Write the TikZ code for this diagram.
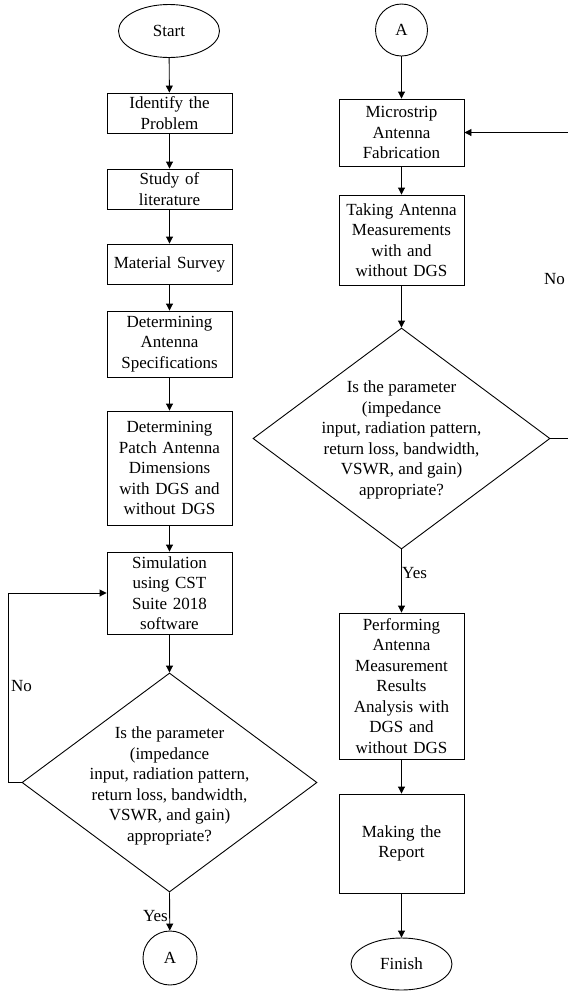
\documentclass[tikz,border=0pt]{standalone}
\usepackage{fontspec}
\setmainfont{Liberation Serif}
\usetikzlibrary{shapes.geometric,arrows.meta,calc}
\begin{document}
\begin{tikzpicture}[x=1pt,y=-1pt,
  every node/.style={font=\fontsize{17}{20.5}\selectfont},
  procbox/.style={draw,line width=0.9pt,rectangle,minimum width=125pt,text width=121pt,align=center,inner sep=1pt},
  term/.style={draw,line width=0.9pt,ellipse,minimum width=101pt,minimum height=53pt,inner sep=0pt},
  conn/.style={draw,line width=0.9pt,circle,minimum size=54pt,inner sep=0pt},
  decide/.style={draw,line width=0.9pt,diamond,inner sep=0pt},
  dtext/.style={align=center,inner sep=0pt},
  arr/.style={line width=0.9pt,-{Triangle[length=7pt,width=7pt]}},
  lbl/.style={inner sep=1pt}]
\useasboundingbox (0,0) rectangle (568,994);
% left column
\node[term] (start) at (169,31) {Start};
\node[procbox,minimum height=40pt] (b1) at (169.5,113) {Identify the\\Problem};
\node[procbox,minimum height=40pt] (b2) at (169.5,189) {Study of\\literature};
\node[procbox,minimum height=40pt] (b3) at (169.5,264) {Material Survey};
\node[procbox,minimum height=66pt] (b4) at (169.5,344) {Determining\\Antenna\\Specifications};
\node[procbox,minimum height=114pt] (b5) at (169.5,468) {Determining\\Patch Antenna\\Dimensions\\with DGS and\\without DGS};
\node[procbox,minimum height=82pt] (b6) at (169.5,593) {Simulation\\using CST\\Suite 2018\\software};
\node[decide,minimum width=295pt,minimum height=219pt] (d1) at (169.5,782.5) {};
\node[dtext] (t1) at (169.5,786) {Is the parameter\\(impedance\\input, radiation pattern,\\return loss, bandwidth,\\VSWR, and gain)\\appropriate?};
\node[conn] (a1) at (170,958) {A};
% right column
\node[conn,minimum size=52pt] (a2) at (401.5,30) {A};
\node[procbox,minimum height=67pt] (c1) at (401.5,132.5) {Microstrip\\Antenna\\Fabrication};
\node[procbox,minimum height=90pt] (c2) at (401.5,240) {Taking Antenna\\Measurements\\with and\\without DGS};
\node[decide,minimum width=297pt,minimum height=221pt] (d2) at (401.5,438.5) {};
\node[dtext] (t2) at (401.5,440) {Is the parameter\\(impedance\\input, radiation pattern,\\return loss, bandwidth,\\VSWR, and gain)\\appropriate?};
\node[procbox,minimum height=146pt] (c3) at (401.5,686) {Performing\\Antenna\\Measurement\\Results\\Analysis with\\DGS and\\without DGS};
\node[procbox,minimum height=99pt] (c4) at (401.5,843.5) {Making the\\Report};
\node[term,minimum height=52pt] (fin) at (401.5,964) {Finish};
% helper coordinates
\coordinate (L) at (8,0);
\coordinate (R) at (576,0);
% connectors left
\draw[arr] (start) -- (b1);
\draw[arr] (b1) -- (b2);
\draw[arr] (b2) -- (b3);
\draw[arr] (b3) -- (b4);
\draw[arr] (b4) -- (b5);
\draw[arr] (b5) -- (b6);
\draw[arr] (b6) -- (d1.north);
\draw[arr] (d1.south) -- (a1);
\draw[arr] (d1.west) -- (d1.west -| L) |- (b6.west);
% connectors right
\draw[arr] (a2) -- (c1);
\draw[arr] (c1) -- (c2);
\draw[arr] (c2) -- (d2.north);
\draw[arr] (d2.south) -- (c3);
\draw[arr] (c3) -- (c4);
\draw[arr] (c4) -- (fin);
\draw[arr] (d2.east) -- (d2.east -| R) |- (c1.east);
% labels
\node[lbl,anchor=west] (no1) at (10,686) {No};
\node[lbl,anchor=east] (yes1) at (169,916) {Yes};
\node[lbl,anchor=west] (no2) at (543,279) {No};
\node[lbl,anchor=west] (yes2) at (401,573) {Yes};
\end{tikzpicture}
\end{document}
